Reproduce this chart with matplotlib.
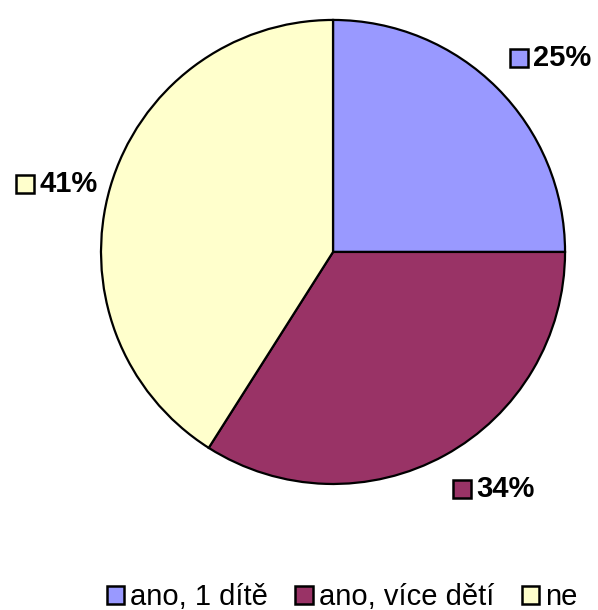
import matplotlib
matplotlib.use('Agg')
import matplotlib.pyplot as plt
from matplotlib.patches import Patch

labels = ['ano, 1 dítě', 'ano, více dětí', 'ne']
values = [25, 34, 41]
colors = ['#9999FF', '#993366', '#FFFFCC']
# label anchors (marker center) in axes data units
label_pos = [(0.802, 0.836), (0.556, -1.021), (-1.328, 0.293)]

plt.rcParams['font.family'] = ['Liberation Sans', 'DejaVu Sans']

fig = plt.figure(figsize=(5.98, 6.10), dpi=100)
ax = fig.add_axes([0.1689, 0.2066, 0.776, 0.7607])
ax.pie(values, colors=colors, startangle=90, counterclock=False,
       wedgeprops={'edgecolor': 'black', 'linewidth': 1.6})
ax.set_xlim(-1, 1)
ax.set_ylim(-1, 1)
ax.set_aspect('equal')

for v, c, (x, y) in zip(values, colors, label_pos):
    ax.plot([x], [y], marker='s', markersize=12.5, markerfacecolor=c,
            markeredgecolor='black', markeredgewidth=1.8, clip_on=False)
    ax.text(x + 0.062, y, str(v) + '%', fontsize=21, fontweight='bold',
            va='center', ha='left', clip_on=False)

handles = [Patch(facecolor=c, edgecolor='black', linewidth=1.8) for c in colors]
fig.legend(handles, labels, loc='center', bbox_to_anchor=(0.572, 0.021),
           ncol=3, frameon=False, fontsize=21, handlelength=0.6,
           handleheight=0.6, handletextpad=0.2, columnspacing=0.95,
           borderpad=0, borderaxespad=0)

fig.savefig('out.png', dpi=100)
